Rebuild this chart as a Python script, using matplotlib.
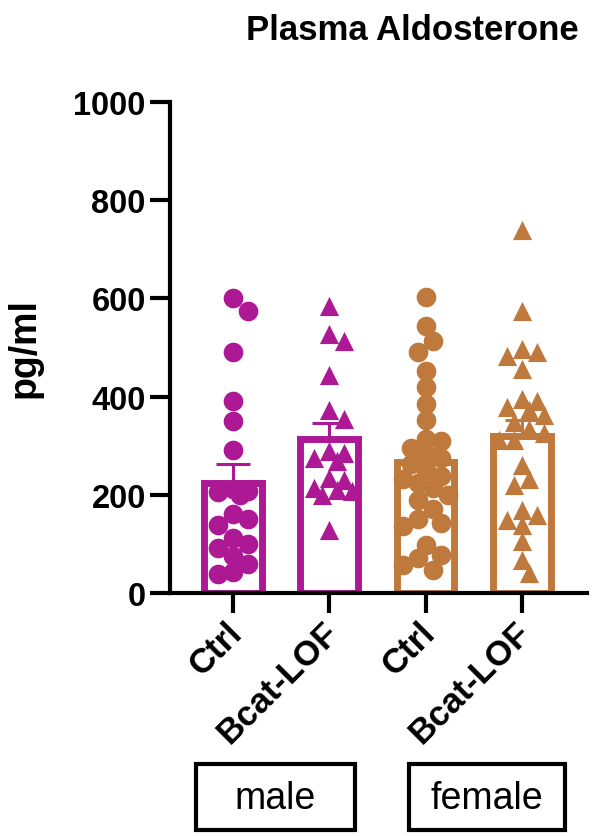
import numpy as np
import matplotlib
matplotlib.use('Agg')
import matplotlib.pyplot as plt
from matplotlib.patches import Rectangle
import matplotlib.transforms as mtrans

plt.rcParams['font.family'] = ['Liberation Sans', 'DejaVu Sans']

# ---- data ----
categories = ['Ctrl', 'Bcat-LOF', 'Ctrl', 'Bcat-LOF']
sexes = ['male', 'female']
male_ctrl = [600, 575, 490, 392, 350, 292, 212, 208, 205, 200, 160, 150,
             138, 112, 100, 92, 75, 60, 42, 38]
male_lof = [585, 527, 514, 443, 372, 355, 285, 290, 275, 268, 234, 230,
            214, 210, 207, 200, 128]
female_ctrl = [602, 544, 514, 490, 453, 419, 385, 352, 314, 309, 295, 284,
               274, 262, 250, 238, 232, 225, 213, 200, 189, 172, 150, 142,
               137, 98, 78, 71, 57, 47]
female_lof = [740, 575, 497, 490, 483, 456, 395, 392, 379, 372, 362, 349,
              335, 325, 311, 311, 260, 233, 220, 169, 159, 149, 139, 105,
              68, 41]
series = [male_ctrl, male_lof, female_ctrl, female_lof]

MAGENTA = '#AD1895'
ORANGE = '#BF793C'
colors = [MAGENTA, MAGENTA, ORANGE, ORANGE]
markers = ['o', '^', 'o', '^']

W, H, DPI = 600, 837, 100
fig = plt.figure(figsize=(W / DPI, H / DPI), dpi=DPI)
ax_l, ax_r, ax_t, ax_b = 170, 587, 103, 594
ax = fig.add_axes([ax_l / W, 1 - ax_b / H, (ax_r - ax_l) / W, (ax_b - ax_t) / H])
xlim = (-0.654, 3.676)
ylim = (0, 1000)
ax.set_xlim(*xlim)
ax.set_ylim(*ylim)

px_x = (ax_r - ax_l) / (xlim[1] - xlim[0])
px_y = (ax_b - ax_t) / (ylim[1] - ylim[0])


def swarm(vals, dia=15.0, maxoff=26.0):
    vals = np.asarray(vals, float)
    order = np.argsort(-vals)
    placed = []
    offs = np.zeros(len(vals))
    step = dia / 2.0
    cands = [0.0]
    k = 1
    while k * step <= maxoff + 1e-9:
        cands += [k * step, -k * step]
        k += 1
    for i in order:
        y = vals[i] * px_y
        best, bestd = 0.0, -1
        for c in cands:
            d = min([np.hypot(c - px, y - py) for px, py in placed] + [1e9])
            if d >= dia:
                best = c
                break
            if d > bestd:
                bestd, best = d, c
        placed.append((best, y))
        offs[i] = best / px_x
    return offs


for i, vals in enumerate(series):
    vals = np.asarray(vals, float)
    m = vals.mean()
    sem = vals.std(ddof=1) / np.sqrt(len(vals))
    ax.errorbar(i, m, yerr=[[0], [sem]], color=colors[i], capsize=12,
                elinewidth=2.2, capthick=2.2, zorder=1, fmt='none')
    ax.bar(i, m, width=0.6, facecolor='none', edgecolor=colors[i],
           linewidth=5, zorder=2)
    offs = swarm(vals)
    ax.scatter(i + offs, vals, marker=markers[i], s=200 if markers[i] == 'o' else 190,
               color=colors[i], linewidths=0, zorder=3, clip_on=False)

for s in ['top', 'right']:
    ax.spines[s].set_visible(False)
for s in ['left', 'bottom']:
    ax.spines[s].set_linewidth(3)

ax.set_yticks([0, 200, 400, 600, 800, 1000])
ax.tick_params(axis='both', length=14.4, width=3, labelsize=23.5, pad=3)
ax.tick_params(axis='x', pad=10)
for lab in ax.get_yticklabels():
    lab.set_fontweight('bold')

ax.set_xticks(range(len(categories)))
ax.set_xticklabels(categories, rotation=45, ha='right', va='center',
                   rotation_mode='anchor', fontsize=25, fontweight='bold')
offset = mtrans.ScaledTranslation(4 / DPI, 0, fig.dpi_scale_trans)
for lab in ax.get_xticklabels():
    lab.set_transform(lab.get_transform() + offset)

fig.text(412 / W, 1 - 30 / H, 'Plasma Aldosterone', ha='center', va='center',
         fontsize=25, fontweight='bold')
fig.text(25 / W, 1 - 348 / H, 'pg/ml', rotation=90, ha='center', va='center',
         fontsize=27, fontweight='bold')

boxes = [(196, 355), (409, 565)]
for (x0, x1), name in zip(boxes, sexes):
    y0, y1 = 765, 831
    fig.patches.append(Rectangle((x0 / W, 1 - y1 / H), (x1 - x0) / W, (y1 - y0) / H,
                                 transform=fig.transFigure, fill=False,
                                 edgecolor='black', linewidth=3))
    fig.text((x0 + x1) / 2 / W, 1 - 799 / H, name, ha='center', va='center',
             fontsize=27)

fig.savefig('out.png', dpi=DPI)
